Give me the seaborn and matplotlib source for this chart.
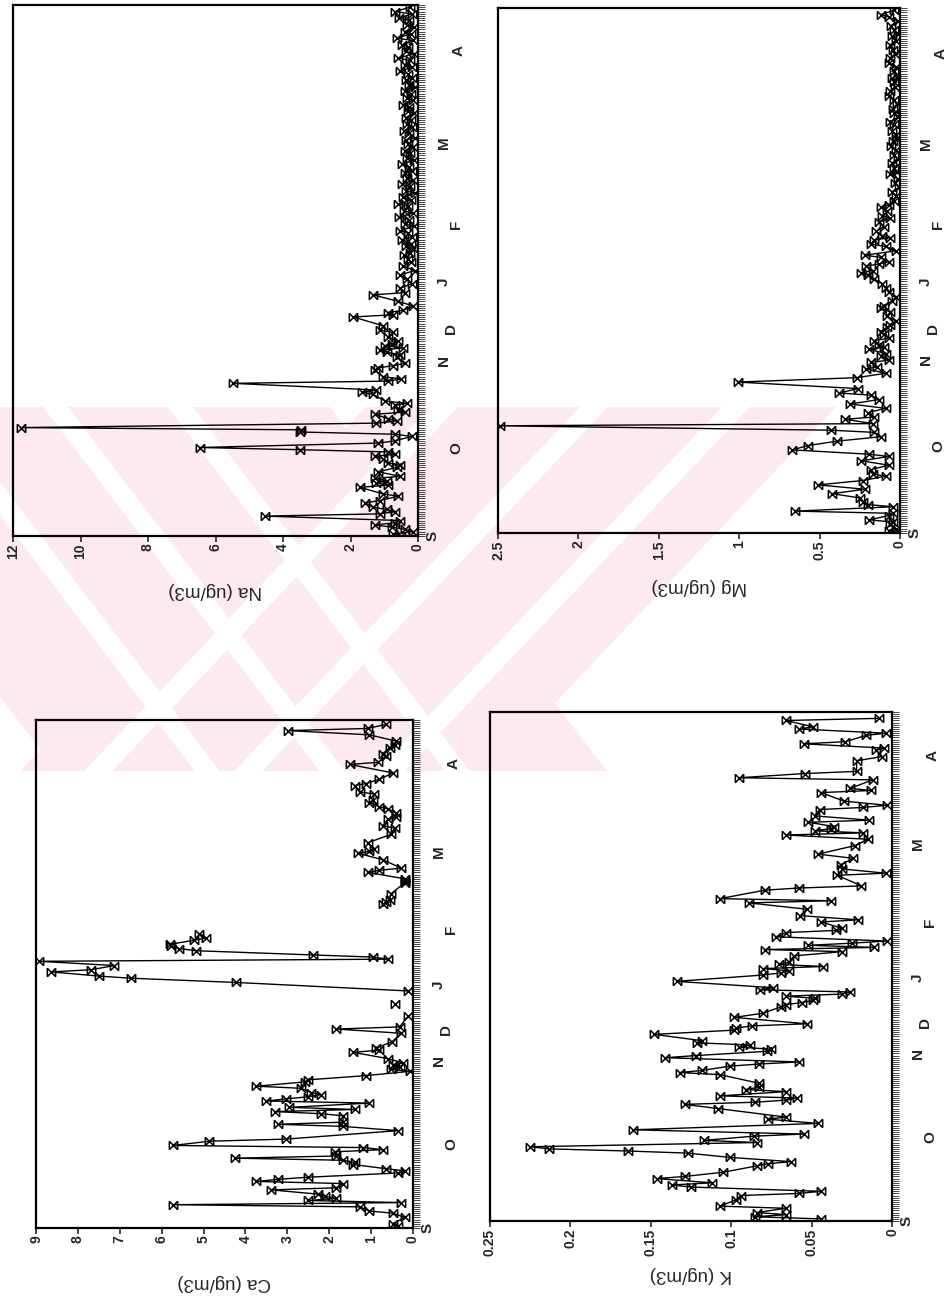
import numpy as np
import pandas as pd
import matplotlib
matplotlib.use("Agg")
import matplotlib.pyplot as plt
from matplotlib.path import Path
from matplotlib.patches import Polygon, Rectangle
from matplotlib.ticker import MultipleLocator
import seaborn as sns

sns.set_style("ticks")
plt.rcParams["font.family"] = ["Liberation Sans", "DejaVu Sans"]

# ---- season axis (sampling day counted from the start of the campaign) ----
month_labels = ["S", "O", "N", "D", "J", "F", "M", "A"]
month_pos = [0, 39.6, 79.2, 93.6, 114.7, 141.0, 177.8, 219.4]
season_len = 240

# ---- Na (ug/m3) ----
na_day = [0, 1, 2, 3, 4, 5, 6, 7, 9, 10, 11, 12, 13, 15, 16, 18, 19, 22, 23, 24,
          25, 26, 27, 29, 31, 32, 33, 35, 36, 37, 38, 39, 40, 42, 43, 45, 46, 47, 48, 49,
          51, 52, 53, 55, 56, 57, 59, 60, 61, 64, 65, 66, 69, 70, 71, 72, 75, 76, 77, 78,
          81, 82, 83, 84, 85, 86, 87, 88, 90, 92, 93, 95, 99, 100, 101, 102, 104, 106, 109, 110,
          112, 114, 116, 118, 120, 122, 124, 125, 127, 128, 130, 131, 132, 134, 135, 137, 138, 140, 141, 143,
          144, 146, 147, 149, 150, 152, 153, 155, 156, 158, 159, 161, 162, 164, 165, 167, 168, 170, 171, 173,
          174, 176, 177, 179, 180, 182, 183, 185, 186, 188, 189, 191, 192, 194, 195, 197, 198, 200, 201, 203,
          204, 206, 207, 209, 210, 212, 213, 215, 216, 218, 219, 221, 222, 224, 225, 227, 228, 230, 231, 233,
          234, 236, 237, 239]
na_val = [0.49, 0.73, 0.14, 0.39, 0.78, 1.28, 0.68, 0.53, 4.54, 1.13, 0.68, 0.93, 1.33, 1.57, 1.13, 0.58, 1.03, 1.72, 0.88, 1.23,
          0.93, 1.28, 0.53, 1.18, 0.63, 0.53, 0.88, 1.03, 1.28, 0.68, 0.88, 3.50, 6.47, 1.18, 0.68, 0.19, 0.68, 3.50, 3.46, 11.77,
          1.23, 0.63, 0.88, 1.28, 0.39, 0.58, 0.68, 0.34, 0.98, 1.33, 1.67, 1.23, 5.49, 0.88, 0.49, 1.03, 1.28, 1.18, 0.73, 0.39,
          0.63, 0.53, 0.93, 1.13, 0.44, 0.98, 0.78, 0.58, 0.88, 0.73, 1.13, 1.03, 1.92, 0.73, 0.88, 0.44, 0.14, 0.58, 1.33, 0.39,
          0.53, 0.19, 0.34, 0.53, 0.09, 0.44, 0.21, 0.29, 0.41, 0.24, 0.14, 0.36, 0.22, 0.47, 0.18, 0.31, 0.52, 0.12, 0.38, 0.27,
          0.55, 0.16, 0.42, 0.30, 0.58, 0.21, 0.44, 0.09, 0.35, 0.25, 0.48, 0.14, 0.33, 0.40, 0.19, 0.28, 0.46, 0.11, 0.32, 0.24,
          0.39, 0.15, 0.29, 0.36, 0.08, 0.27, 0.41, 0.18, 0.33, 0.22, 0.37, 0.12, 0.30, 0.26, 0.45, 0.14, 0.34, 0.21, 0.40, 0.10,
          0.28, 0.35, 0.19, 0.31, 0.52, 0.17, 0.38, 0.25, 0.58, 0.13, 0.36, 0.29, 0.47, 0.16, 0.62, 0.22, 0.39, 0.11, 0.34, 0.26,
          0.56, 0.18, 0.68, 0.24]

# ---- Mg (ug/m3) ----
mg_day = [0, 1, 2, 4, 5, 6, 8, 9, 10, 12, 13, 14, 16, 18, 20, 22, 24, 26, 27, 29,
          31, 33, 35, 36, 38, 40, 42, 44, 46, 47, 49, 50, 52, 53, 55, 57, 59, 61, 63, 64,
          66, 69, 71, 73, 75, 76, 78, 79, 81, 82, 84, 85, 86, 88, 89, 91, 92, 94, 95, 97,
          99, 101, 103, 104, 106, 108, 110, 112, 114, 116, 118, 119, 120, 122, 123, 124, 126, 127, 129, 131,
          132, 134, 135, 136, 138, 140, 142, 144, 145, 147, 149, 150, 152, 154, 156, 158, 160, 162, 164, 165,
          167, 169, 171, 173, 175, 177, 179, 180, 182, 184, 187, 188, 190, 192, 194, 196, 198, 200, 202, 204,
          206, 208, 209, 211, 213, 215, 217, 219, 221, 223, 225, 227, 228, 230, 232, 234, 236, 237, 239]
mg_val = [0.035, 0.07, 0.025, 0.06, 0.045, 0.19, 0.07, 0.045, 0.65, 0.045, 0.20, 0.23, 0.25, 0.42, 0.22, 0.51, 0.23, 0.09, 0.17, 0.18,
          0.07, 0.24, 0.07, 0.19, 0.67, 0.57, 0.39, 0.12, 0.16, 0.43, 2.49, 0.17, 0.34, 0.16, 0.20, 0.09, 0.31, 0.13, 0.18, 0.38,
          0.26, 1.01, 0.27, 0.09, 0.21, 0.14, 0.18, 0.07, 0.12, 0.09, 0.19, 0.10, 0.13, 0.16, 0.07, 0.10, 0.12, 0.08, 0.06, 0.025,
          0.08, 0.06, 0.12, 0.10, 0.05, 0.025, 0.07, 0.09, 0.11, 0.16, 0.20, 0.24, 0.17, 0.21, 0.13, 0.07, 0.12, 0.22, 0.025, 0.09,
          0.18, 0.16, 0.06, 0.11, 0.15, 0.10, 0.13, 0.06, 0.11, 0.08, 0.12, 0.07, 0.04, 0.025, 0.05, 0.005, 0.03, 0.015, 0.06, 0.02,
          0.035, 0.05, 0.015, 0.04, 0.025, 0.055, 0.045, 0.02, 0.025, 0.05, 0.035, 0.06, 0.015, 0.04, 0.045, 0.02, 0.035, 0.07, 0.06, 0.03,
          0.035, 0.05, 0.015, 0.04, 0.025, 0.07, 0.06, 0.03, 0.045, 0.065, 0.025, 0.05, 0.015, 0.04, 0.055, 0.015, 0.07, 0.12, 0.035]

# ---- Ca (ug/m3); NaN marks days without a valid sample ----
nan = np.nan
ca_day = [1, 2, 5, 7, 8, 10, 11, 12, 13, 14, 15, 16, 18, 19, 21, 22, 23, 24, 26, 27,
          28, 30, 31, 32, 33, 34, 36, 37, 38, 39, 41, 42, 46, 48, 49, 50, 53, 54, 55, 56,
          57, 59, 60, 61, 62, 63, 64, 66, 67, 69, 70, 72, 74, 75, 76, 77, 78, 80, 83, 84,
          85, 88, 92, 94, 95, 100, 103, 106, 109, 112, 116, 118, 119, 121, 122, 124, 126, 127, 128, 129,
          131, 132, 133, 134, 136, 137, 139, 146, 153, 154, 155, 158, 163, 164, 165, 168, 169, 170, 174, 177,
          178, 179, 182, 186, 189, 190, 193, 194, 196, 198, 199, 201, 202, 205, 206, 209, 210, 212, 215, 219,
          220, 223, 224, 227, 228, 230, 233, 235, 236, 238]
ca_val = [0.36, 0.48, 0.20, 0.48, 1.04, 1.27, 5.73, 0.28, 2.50, 1.83, 2.10, 2.27, 3.38, 1.83, 1.67, 3.74, 3.22, 2.50, 0.36, 0.20,
          0.64, 1.43, 1.39, 1.67, 4.26, 1.83, 1.87, 0.72, 1.19, 5.73, 4.86, 3.03, 0.36, 1.67, 3.22, 1.67, 1.67, 2.19, 3.30, 1.39,
          2.95, 1.04, 3.50, 3.03, 2.50, 2.19, 2.43, 2.67, 3.74, 2.59, 2.50, 1.12, 0.08, 0.52, 0.32, 0.48, 0.24, 0.60, 1.43, 0.80,
          0.88, 0.50, 0.28, 1.83, 0.32, 0.12, nan, 0.44, nan, 0.12, 4.22, 6.73, 7.49, 8.64, 7.69, 7.13, 8.92, 0.60, 0.96, 2.39,
          5.18, 5.58, 5.77, 5.81, 5.22, 4.94, 5.10, nan, 0.72, 0.64, 0.56, 0.52, 0.20, 0.20, 0.20, 1.08, 0.80, 0.28, 0.72, 1.31,
          1.04, 0.92, 1.08, 0.52, 0.44, 0.72, 0.60, 0.40, 0.40, 0.60, 0.80, 1.04, 0.96, 0.92, 1.27, 1.39, 1.12, 0.80, 0.48, 1.51,
          0.84, 0.64, 0.72, 0.56, 0.44, 0.40, 1.04, 2.99, 1.08, 0.64]

# ---- K (ug/m3) ----
k_day = [1, 2, 3, 4, 6, 7, 10, 12, 13, 14, 16, 17, 18, 20, 21, 23, 26, 27, 28, 30,
         32, 33, 34, 35, 37, 38, 40, 41, 43, 46, 48, 49, 53, 55, 56, 57, 58, 59, 61, 62,
         63, 65, 69, 70, 71, 73, 74, 75, 77, 78, 80, 81, 82, 83, 84, 85, 88, 90, 91, 92,
         93, 96, 98, 101, 102, 103, 104, 105, 106, 107, 108, 109, 110, 113, 116, 117, 118, 119, 120, 121,
         122, 125, 127, 128, 129, 130, 131, 132, 134, 136, 137, 138, 141, 142, 144, 147, 150, 151, 152, 156,
         157, 158, 163, 164, 166, 168, 171, 173, 177, 180, 182, 183, 184, 185, 186, 188, 189, 191, 194, 195,
         196, 198, 202, 203, 204, 208, 209, 211, 212, 217, 219, 222, 223, 225, 226, 229, 230, 232, 233, 236,
         237]
k_val = [0.044, 0.085, 0.066, 0.084, 0.066, 0.107, 0.097, 0.094, 0.058, 0.044, 0.125, 0.137, 0.112, 0.146, 0.129, 0.105, 0.084, 0.077, 0.063, 0.101,
         0.127, 0.164, 0.213, 0.225, 0.084, 0.117, 0.086, 0.055, 0.161, 0.046, 0.077, 0.066, 0.108, 0.129, 0.085, 0.066, 0.059, 0.107, 0.066, 0.091,
         0.083, 0.083, 0.107, 0.132, 0.118, 0.101, 0.083, 0.058, 0.141, 0.122, 0.078, 0.075, 0.095, 0.088, 0.121, 0.118, 0.148, 0.098, 0.097, 0.087,
         0.053, 0.098, 0.080, 0.069, 0.066, 0.056, 0.049, 0.048, 0.066, 0.031, 0.026, 0.082, 0.074, 0.134, 0.080, 0.069, 0.064, 0.080, 0.043, 0.070,
         0.064, 0.061, 0.031, 0.079, 0.011, 0.052, 0.025, 0.003, 0.072, 0.066, 0.035, 0.031, 0.044, 0.021, 0.057, 0.053, 0.089, 0.038, 0.107, 0.079,
         0.058, 0.019, 0.034, 0.004, 0.031, 0.032, 0.024, 0.046, 0.023, 0.015, 0.066, 0.018, 0.048, 0.038, 0.036, 0.052, 0.014, 0.048, 0.045, 0.018,
         0.003, 0.030, 0.044, 0.013, 0.026, 0.012, 0.095, 0.054, 0.022, 0.022, 0.006, 0.010, 0.005, 0.055, 0.029, 0.016, 0.004, 0.058, 0.049, 0.066,
         0.008]

# ---- figure layout (pixel boxes: left, top, right, bottom) ----
W, H = 949, 1303
panels = [
    dict(name="Na (ug/m3)", day=na_day, val=na_val, vmax=12,
         ticks=[0, 2, 4, 6, 8, 10, 12], labels=["0", "2", "4", "6", "8", "10", "12"],
         box=(13, 5, 418, 536)),
    dict(name="Mg (ug/m3)", day=mg_day, val=mg_val, vmax=2.5,
         ticks=[0, 0.5, 1, 1.5, 2, 2.5], labels=["0", "0.5", "1", "1.5", "2", "2.5"],
         box=(498, 8, 900, 533)),
    dict(name="Ca (ug/m3)", day=ca_day, val=ca_val, vmax=9,
         ticks=list(range(10)), labels=[str(i) for i in range(10)],
         box=(36, 720, 413, 1228)),
    dict(name="K (ug/m3)", day=k_day, val=k_val, vmax=0.25,
         ticks=[0, 0.05, 0.1, 0.15, 0.2, 0.25], labels=["0", "0.05", "0.1", "0.15", "0.2", "0.25"],
         box=(490, 712, 892, 1221)),
]
# distance of each month letter from the time axis, in pixels
month_offset = [15, 38, 26, 33, 26, 38, 26, 41]

fig = plt.figure(figsize=(W / 100, H / 100), dpi=100, facecolor="white")

# faint pink print behind the plots: two crossing striped arms, cut to a band
bg = fig.add_axes([0, 0, 1, 1], zorder=-10)
bg.set_xlim(0, W)
bg.set_ylim(H, 0)
bg.axis("off")
pink = "#fdeaee"
Y0, Y1 = 407, 771
clip = Rectangle((0, Y0), W, Y1 - Y0, transform=bg.transData)


def slab(x_left, x_right, slope, color):
    ya, yb = Y0 - 20, Y1 + 20
    pts = [(x_left + slope * (ya - Y0), ya), (x_right + slope * (ya - Y0), ya),
           (x_right + slope * (yb - Y0), yb), (x_left + slope * (yb - Y0), yb)]
    patch = Polygon(pts, closed=True, facecolor=color, edgecolor="none")
    bg.add_patch(patch)
    patch.set_clip_path(clip)


slab(-220, 330, 0.76, pink)      # arm running down to the right
slab(366, 836, -0.95, pink)      # arm running up to the right
for g in (-82, 43, 168):
    slab(g, g + 25, 0.76, "white")
for g in (430, 580, 722):
    slab(g, g + 28, -0.95, "white")

bowtie = Path([(-1, -1), (1, 1), (-1, 1), (1, -1), (-1, -1), (-1, 1), (1, -1), (1, 1)],
              [Path.MOVETO, Path.LINETO] * 4)

for p in panels:
    l, t, r, b = p["box"]
    ax = fig.add_axes([l / W, (H - b) / H, (r - l) / W, (b - t) / H])
    ax.set_facecolor("none")
    df = pd.DataFrame({"day": p["day"], "val": p["val"]})
    df["seg"] = df["val"].isna().cumsum()
    df = df.dropna()
    sns.lineplot(data=df, x="val", y="day", units="seg", estimator=None, sort=False,
                 color="black", lw=1.0, marker=bowtie, markersize=6,
                 markeredgecolor="black", markeredgewidth=1.1, markerfacecolor="none",
                 legend=False, ax=ax)
    ax.set_xlim(p["vmax"], 0)
    ax.set_ylim(0, season_len)
    ax.set_xlabel("")
    ax.set_ylabel("")
    for s in ax.spines.values():
        s.set_visible(True)
        s.set_linewidth(1.6)
        s.set_color("black")
    # concentration axis along the bottom
    ax.set_xticks(p["ticks"])
    ax.set_xticklabels(p["labels"], rotation=90, fontsize=10, fontweight="bold")
    ax.tick_params(axis="x", direction="out", length=4, width=1.2, pad=1.5)
    # time axis along the right edge: one small tick per day
    ax.yaxis.tick_right()
    ax.set_yticks([])
    ax.yaxis.set_minor_locator(MultipleLocator(1))
    ax.tick_params(axis="y", which="minor", direction="out", length=5, width=0.6, right=True, left=False)
    wpx = r - l
    for lab, pos, off in zip(month_labels, month_pos, month_offset):
        ax.text(1 + off / wpx, pos, lab, transform=ax.get_yaxis_transform(),
                rotation=90, ha="center", va="center", fontsize=11, fontweight="bold")
    fig.text((l + r) / 2 / W, (H - (b + 54)) / H, p["name"], rotation=180,
             ha="center", va="center", fontsize=13.5)

fig.savefig("out.png", dpi=100, facecolor="white")
